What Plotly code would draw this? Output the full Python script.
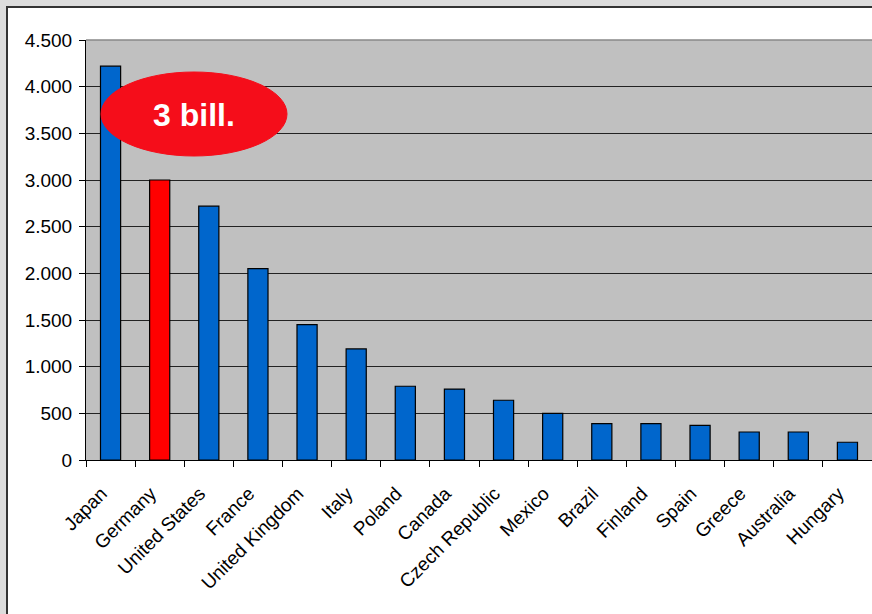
import plotly.graph_objects as go

countries = ["Japan", "Germany", "United States", "France", "United Kingdom", "Italy",
             "Poland", "Canada", "Czech Republic", "Mexico", "Brazil", "Finland",
             "Spain", "Greece", "Australia", "Hungary"]
values = [4220, 3000, 2720, 2050, 1450, 1190, 790, 760, 640, 500, 390, 390, 370, 300, 300, 190]
highlight = "Germany"
y_ticks = [0, 500, 1000, 1500, 2000, 2500, 3000, 3500, 4000, 4500]

colors = ["#ff0000" if c == highlight else "#0066cc" for c in countries]

W, H = 872, 614
L, T, B = 86, 40, 154
R = 0
pw = W - L - R
ph = H - T - B


def px_x(px):
    return (px - L) / pw


def px_y(py):
    return (H - B - py) / ph


fig = go.Figure(
    go.Bar(
        x=countries,
        y=values,
        marker=dict(color=colors, line=dict(color="#000000", width=1.2)),
        width=0.41,
    )
)

fig.update_layout(
    width=W,
    height=H,
    margin=dict(l=L, r=R, t=T, b=B, pad=0),
    paper_bgcolor="#dcdcdc",
    plot_bgcolor="#c0c0c0",
    separators=",.",
    showlegend=False,
    font=dict(family="Liberation Sans, Arial, sans-serif", color="#000000"),
)

fig.update_yaxes(
    range=[0, 4500],
    tickvals=y_ticks,
    tickformat=",d",
    showgrid=True,
    gridcolor="#222222",
    gridwidth=1,
    showline=True,
    linecolor="#000000",
    linewidth=1,
    ticks="outside",
    ticklen=6,
    tickcolor="#000000",
    tickfont=dict(size=19),
    ticklabelstandoff=3,
    zeroline=False,
)

fig.update_xaxes(
    tickangle=-45,
    tickson="boundaries",
    ticks="outside",
    ticklen=6,
    tickcolor="#000000",
    showline=True,
    linecolor="#000000",
    linewidth=1,
    tickfont=dict(size=19),
    ticklabelstandoff=14,
    ticklabelshift=-9,
    showgrid=False,
)

# white panel with a dark frame behind the chart
fig.add_shape(
    type="rect", xref="paper", yref="paper", layer="below",
    x0=px_x(7), x1=px_x(W + 20), y0=px_y(H + 20), y1=px_y(7),
    fillcolor="#ffffff", line=dict(color="#333333", width=2),
)
# grey plotting area on top of the white panel
fig.add_shape(
    type="rect", xref="paper", yref="paper", layer="below",
    x0=0, x1=1.01, y0=0, y1=1,
    fillcolor="#c0c0c0", line=dict(width=0),
)
# light top border of the plotting area
fig.add_shape(
    type="line", xref="paper", yref="paper",
    x0=0, x1=1, y0=1, y1=1, line=dict(color="#888888", width=1.5),
)

# red callout ellipse
fig.add_shape(
    type="circle", xref="paper", yref="paper",
    x0=px_x(101), x1=px_x(287), y0=px_y(156), y1=px_y(72),
    fillcolor="#f50d1a", line=dict(color="#f50d1a", width=1),
)
fig.add_annotation(
    x=px_x(194), y=px_y(115), xref="paper", yref="paper",
    xanchor="center", yanchor="middle",
    text="<b>3 bill.</b>", showarrow=False,
    font=dict(size=32, color="#ffffff", family="Liberation Sans, Arial, sans-serif"),
)

fig.write_html("out.html")
